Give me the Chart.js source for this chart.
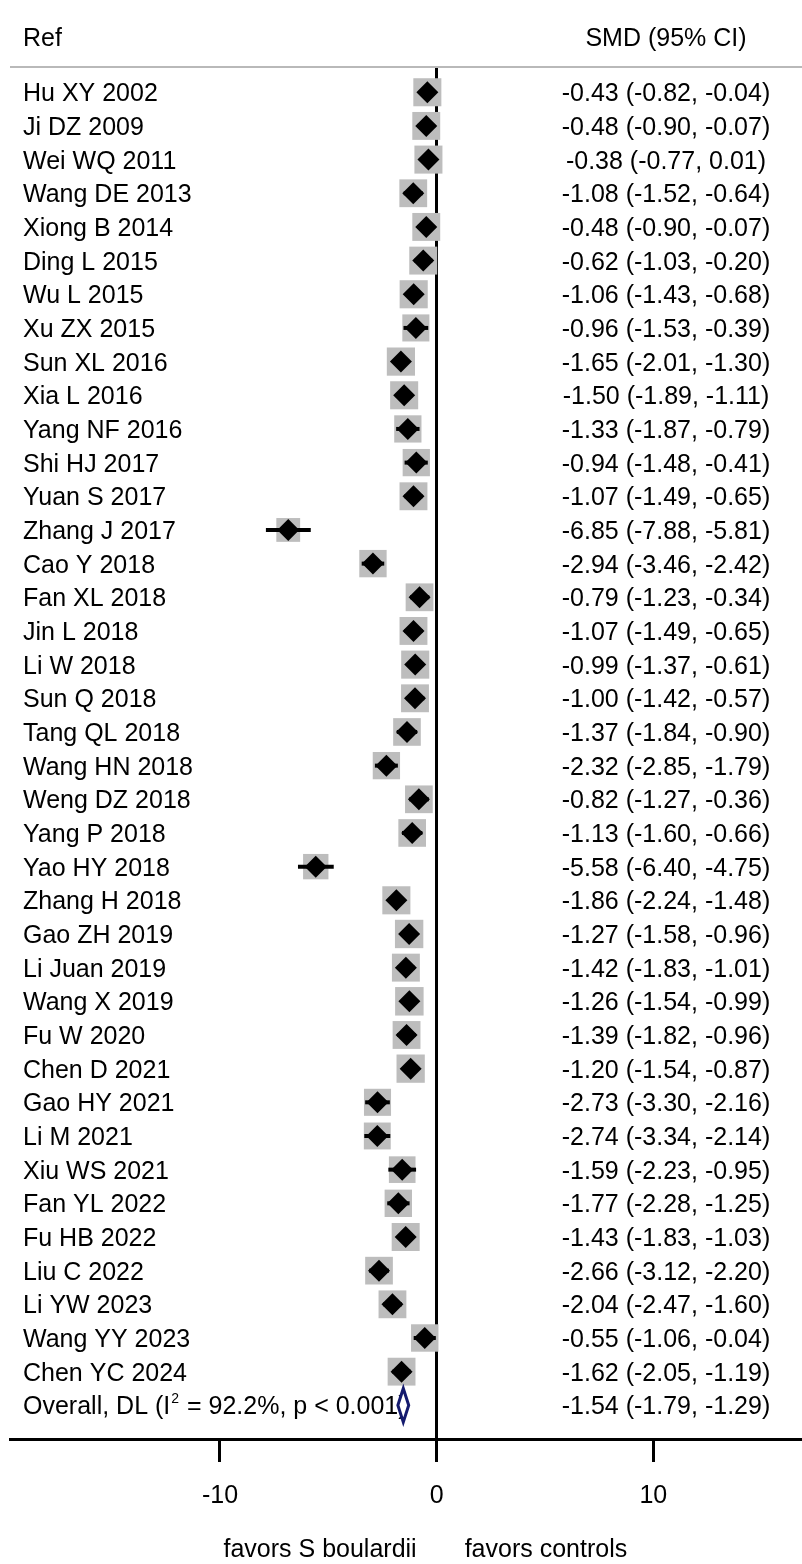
<!DOCTYPE html>
<html>
<head>
<meta charset="utf-8">
<title>S boulardii forest plot</title>
<script src="https://cdn.jsdelivr.net/npm/chart.js@4.4.1/dist/chart.umd.min.js"></script>
<style>
  html, body { margin: 0; padding: 0; background: #fff; }
  #wrap { width: 802px; height: 1564px; }
  canvas { display: block; }
</style>
</head>
<body>
<div id="wrap"><canvas id="forest" width="802" height="1564"></canvas></div>
<script>
// Study labels, standardised mean differences and 95% confidence limits
const studies = [
  'Hu XY 2002', 'Ji DZ 2009', 'Wei WQ 2011', 'Wang DE 2013', 'Xiong B 2014',
  'Ding L 2015', 'Wu L 2015', 'Xu ZX 2015', 'Sun XL 2016', 'Xia L 2016',
  'Yang NF 2016', 'Shi HJ 2017', 'Yuan S 2017', 'Zhang J 2017', 'Cao Y 2018',
  'Fan XL 2018', 'Jin L 2018', 'Li W 2018', 'Sun Q 2018', 'Tang QL 2018',
  'Wang HN 2018', 'Weng DZ 2018', 'Yang P 2018', 'Yao HY 2018', 'Zhang H 2018',
  'Gao ZH 2019', 'Li Juan 2019', 'Wang X 2019', 'Fu W 2020', 'Chen D 2021',
  'Gao HY 2021', 'Li M 2021', 'Xiu WS 2021', 'Fan YL 2022', 'Fu HB 2022',
  'Liu C 2022', 'Li YW 2023', 'Wang YY 2023', 'Chen YC 2024'
];
const smd = [
  -0.43, -0.48, -0.38, -1.08, -0.48, -0.62, -1.06, -0.96, -1.65, -1.50,
  -1.33, -0.94, -1.07, -6.85, -2.94, -0.79, -1.07, -0.99, -1.00, -1.37,
  -2.32, -0.82, -1.13, -5.58, -1.86, -1.27, -1.42, -1.26, -1.39, -1.20,
  -2.73, -2.74, -1.59, -1.77, -1.43, -2.66, -2.04, -0.55, -1.62
];
const ciLow = [
  -0.82, -0.90, -0.77, -1.52, -0.90, -1.03, -1.43, -1.53, -2.01, -1.89,
  -1.87, -1.48, -1.49, -7.88, -3.46, -1.23, -1.49, -1.37, -1.42, -1.84,
  -2.85, -1.27, -1.60, -6.40, -2.24, -1.58, -1.83, -1.54, -1.82, -1.54,
  -3.30, -3.34, -2.23, -2.28, -1.83, -3.12, -2.47, -1.06, -2.05
];
const ciHigh = [
  -0.04, -0.07, 0.01, -0.64, -0.07, -0.20, -0.68, -0.39, -1.30, -1.11,
  -0.79, -0.41, -0.65, -5.81, -2.42, -0.34, -0.65, -0.61, -0.57, -0.90,
  -1.79, -0.36, -0.66, -4.75, -1.48, -0.96, -1.01, -0.99, -0.96, -0.87,
  -2.16, -2.14, -0.95, -1.25, -1.03, -2.20, -1.60, -0.04, -1.19
];

// Pooled (DerSimonian-Laird) result
const overallLabel = ['Overall, DL (I', '2', ' = 92.2%, p < 0.001)'];
const overallSMD = -1.54;
const overallLow = -1.79;
const overallHigh = -1.29;

const axisTicks = [-10, 0, 10];
const headerLeft = 'Ref';
const headerRight = 'SMD (95% CI)';
const favourLeft = 'favors S boulardii';
const favourRight = 'favors controls';

const FONT = '"Liberation Sans", Arial, Helvetica, sans-serif';
const fmt = v => v.toFixed(2);

// Random-effects weights (DL) -> box area proportional to weight
const variances = ciLow.map((lo, i) => Math.pow((ciHigh[i] - lo) / 3.92, 2));
const fixedW = variances.map(v => 1 / v);
const sumW = fixedW.reduce((a, b) => a + b, 0);
const fixedMean = fixedW.reduce((a, w, i) => a + w * smd[i], 0) / sumW;
const Q = fixedW.reduce((a, w, i) => a + w * Math.pow(smd[i] - fixedMean, 2), 0);
const C = sumW - fixedW.reduce((a, w) => a + w * w, 0) / sumW;
const tau2 = Math.max(0, (Q - (studies.length - 1)) / C);
const reW = variances.map(v => 1 / (v + tau2));
const maxW = Math.max(...reW);
const MAX_BOX = 28.5;
const boxSide = reW.map(w => MAX_BOX * Math.sqrt(w / maxW));

const rowIndex = studies.map((_, i) => i);
const overallRow = studies.length;

// Text columns, header rule, pooled diamond and direction captions
const forestDecor = {
  id: 'forestDecor',
  beforeDatasetsDraw(chart) {
    const { ctx, chartArea, scales: { x, y } } = chart;
    ctx.save();
    // header rule
    ctx.strokeStyle = '#b9b9b9';
    ctx.lineWidth = 2;
    ctx.beginPath();
    ctx.moveTo(chartArea.left, chartArea.top);
    ctx.lineTo(chartArea.right, chartArea.top);
    ctx.stroke();

    ctx.fillStyle = '#000';
    ctx.font = `25px ${FONT}`;
    ctx.textBaseline = 'alphabetic';
    ctx.textAlign = 'left';
    ctx.fillText(headerLeft, 23, 46);
    ctx.textAlign = 'center';
    ctx.fillText(headerRight, 666, 46);

    rowIndex.forEach(i => {
      const py = y.getPixelForValue(i) + 9;
      ctx.textAlign = 'left';
      ctx.fillText(studies[i], 23, py);
      ctx.textAlign = 'center';
      ctx.fillText(`${fmt(smd[i])} (${fmt(ciLow[i])}, ${fmt(ciHigh[i])})`, 666, py);
    });

    // pooled row
    const oy = y.getPixelForValue(overallRow) + 9;
    ctx.textAlign = 'left';
    let tx = 23;
    ctx.fillText(overallLabel[0], tx, oy);
    tx += ctx.measureText(overallLabel[0]).width + 1;
    ctx.font = `14px ${FONT}`;
    ctx.fillText(overallLabel[1], tx, oy - 11);
    tx += ctx.measureText(overallLabel[1]).width + 1;
    ctx.font = `25px ${FONT}`;
    ctx.fillText(overallLabel[2], tx, oy);
    ctx.textAlign = 'center';
    ctx.fillText(`${fmt(overallSMD)} (${fmt(overallLow)}, ${fmt(overallHigh)})`, 666, oy);

    // direction captions either side of the null line
    const x0 = x.getPixelForValue(0);
    ctx.textAlign = 'right';
    ctx.fillText(favourLeft, x0 - 20, 1557);
    ctx.textAlign = 'left';
    ctx.fillText(favourRight, x0 + 28, 1557);
    ctx.restore();
  },
  afterDatasetsDraw(chart) {
    const { ctx, scales: { x, y } } = chart;
    const yc = y.getPixelForValue(overallRow);
    const yTop = y.getPixelForValue(overallRow - 0.5);
    const yBot = y.getPixelForValue(overallRow + 0.5);
    const xl = x.getPixelForValue(overallLow);
    const xm = x.getPixelForValue(overallSMD);
    const xr = x.getPixelForValue(overallHigh);
    ctx.save();
    ctx.beginPath();
    ctx.moveTo(xl, yc);
    ctx.lineTo(xm, yTop);
    ctx.lineTo(xr, yc);
    ctx.lineTo(xm, yBot);
    ctx.closePath();
    ctx.fillStyle = '#fff';
    ctx.fill();
    ctx.strokeStyle = '#141a6e';
    ctx.lineWidth = 3;
    ctx.lineJoin = 'miter';
    ctx.stroke();
    ctx.restore();
  }
};

new Chart(document.getElementById('forest'), {
  type: 'scatter',
  data: {
    datasets: [
      {
        label: 'Weight',
        data: rowIndex.map(i => ({ x: smd[i], y: i })),
        pointStyle: 'rect',
        pointRadius: c => boxSide[c.dataIndex] / (2 * Math.SQRT1_2),
        pointHoverRadius: c => boxSide[c.dataIndex] / (2 * Math.SQRT1_2),
        backgroundColor: '#bdbdbd',
        borderWidth: 0,
        order: 3
      },
      {
        type: 'bar',
        label: '95% CI',
        indexAxis: 'y',
        data: rowIndex.map(i => ({ x: [ciLow[i], ciHigh[i]], y: i })),
        backgroundColor: '#000',
        borderWidth: 0,
        barThickness: 4,
        inflateAmount: 0,
        order: 2
      },
      {
        label: 'SMD',
        data: rowIndex.map(i => ({ x: smd[i], y: i })),
        pointStyle: 'rectRot',
        pointRadius: 11,
        pointHoverRadius: 11,
        backgroundColor: '#000',
        borderWidth: 0,
        order: 1
      }
    ]
  },
  options: {
    responsive: false,
    animation: false,
    devicePixelRatio: 1,
    events: [],
    layout: { autoPadding: false, padding: { left: 10, right: 0, top: 67, bottom: 0 } },
    plugins: { legend: { display: false }, tooltip: { enabled: false } },
    scales: {
      x: {
        type: 'linear',
        position: 'bottom',
        min: -19.69,
        max: 16.86,
        offset: false,
        z: 1,
        afterBuildTicks: s => { s.ticks = axisTicks.map(v => ({ value: v })); },
        afterFit: s => { s.height = 1564 - 1439; },
        grid: {
          drawOnChartArea: true,
          offset: false,
          color: c => (c.tick && c.tick.value === 0 ? '#000' : 'rgba(0,0,0,0)'),
          lineWidth: 3,
          tickColor: '#000',
          tickWidth: 3,
          tickLength: 23
        },
        border: { display: true, color: '#000', width: 3 },
        ticks: {
          color: '#000',
          font: { family: FONT, size: 25 },
          padding: 19,
          maxRotation: 0,
          callback: v => String(v)
        }
      },
      y: {
        type: 'linear',
        reverse: true,
        min: -0.75,
        max: 40,
        offset: false,
        grid: { offset: false },
        display: false
      }
    }
  },
  plugins: [forestDecor]
});
</script>
</body>
</html>
